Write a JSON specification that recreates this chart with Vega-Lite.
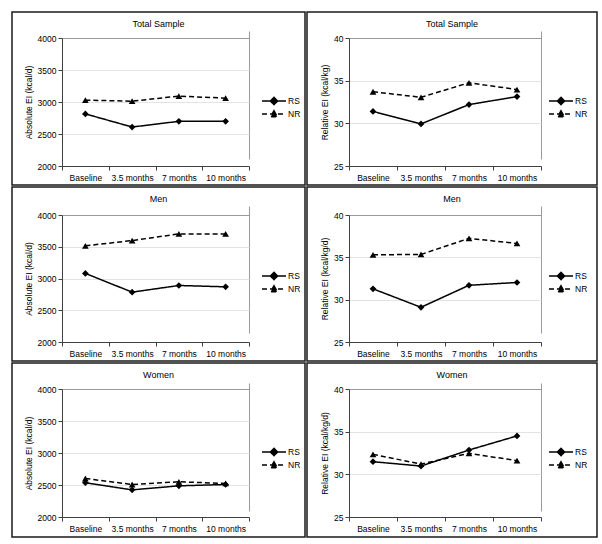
{
  "$schema": "https://vega.github.io/schema/vega-lite/v6.json",
  "padding": {"left": 11, "top": 11, "right": 0, "bottom": 0},
  "background": "white",
  "data": {"values": [
    {"panel": "TA", "series": "RS", "time": "Baseline", "value": 2814},
    {"panel": "TA", "series": "RS", "time": "3.5 months", "value": 2609},
    {"panel": "TA", "series": "RS", "time": "7 months", "value": 2698},
    {"panel": "TA", "series": "RS", "time": "10 months", "value": 2698},
    {"panel": "TA", "series": "NR", "time": "Baseline", "value": 3029},
    {"panel": "TA", "series": "NR", "time": "3.5 months", "value": 3013},
    {"panel": "TA", "series": "NR", "time": "7 months", "value": 3092},
    {"panel": "TA", "series": "NR", "time": "10 months", "value": 3060},
    {"panel": "TR", "series": "RS", "time": "Baseline", "value": 31.4},
    {"panel": "TR", "series": "RS", "time": "3.5 months", "value": 29.93},
    {"panel": "TR", "series": "RS", "time": "7 months", "value": 32.2},
    {"panel": "TR", "series": "RS", "time": "10 months", "value": 33.13},
    {"panel": "TR", "series": "NR", "time": "Baseline", "value": 33.7},
    {"panel": "TR", "series": "NR", "time": "3.5 months", "value": 33.05},
    {"panel": "TR", "series": "NR", "time": "7 months", "value": 34.75},
    {"panel": "TR", "series": "NR", "time": "10 months", "value": 33.96},
    {"panel": "MA", "series": "RS", "time": "Baseline", "value": 3080},
    {"panel": "MA", "series": "RS", "time": "3.5 months", "value": 2785},
    {"panel": "MA", "series": "RS", "time": "7 months", "value": 2890},
    {"panel": "MA", "series": "RS", "time": "10 months", "value": 2869},
    {"panel": "MA", "series": "NR", "time": "Baseline", "value": 3515},
    {"panel": "MA", "series": "NR", "time": "3.5 months", "value": 3597},
    {"panel": "MA", "series": "NR", "time": "7 months", "value": 3702},
    {"panel": "MA", "series": "NR", "time": "10 months", "value": 3702},
    {"panel": "MR", "series": "RS", "time": "Baseline", "value": 31.28},
    {"panel": "MR", "series": "RS", "time": "3.5 months", "value": 29.1},
    {"panel": "MR", "series": "RS", "time": "7 months", "value": 31.7},
    {"panel": "MR", "series": "RS", "time": "10 months", "value": 32.03},
    {"panel": "MR", "series": "NR", "time": "Baseline", "value": 35.3},
    {"panel": "MR", "series": "NR", "time": "3.5 months", "value": 35.34},
    {"panel": "MR", "series": "NR", "time": "7 months", "value": 37.24},
    {"panel": "MR", "series": "NR", "time": "10 months", "value": 36.64},
    {"panel": "WA", "series": "RS", "time": "Baseline", "value": 2535},
    {"panel": "WA", "series": "RS", "time": "3.5 months", "value": 2424},
    {"panel": "WA", "series": "RS", "time": "7 months", "value": 2487},
    {"panel": "WA", "series": "RS", "time": "10 months", "value": 2508},
    {"panel": "WA", "series": "NR", "time": "Baseline", "value": 2602},
    {"panel": "WA", "series": "NR", "time": "3.5 months", "value": 2508},
    {"panel": "WA", "series": "NR", "time": "7 months", "value": 2550},
    {"panel": "WA", "series": "NR", "time": "10 months", "value": 2524},
    {"panel": "WR", "series": "RS", "time": "Baseline", "value": 31.48},
    {"panel": "WR", "series": "RS", "time": "3.5 months", "value": 30.97},
    {"panel": "WR", "series": "RS", "time": "7 months", "value": 32.85},
    {"panel": "WR", "series": "RS", "time": "10 months", "value": 34.5},
    {"panel": "WR", "series": "NR", "time": "Baseline", "value": 32.34},
    {"panel": "WR", "series": "NR", "time": "3.5 months", "value": 31.2},
    {"panel": "WR", "series": "NR", "time": "7 months", "value": 32.46},
    {"panel": "WR", "series": "NR", "time": "10 months", "value": 31.6}
  ]},
  "spacing": 0,
  "resolve": {"scale": {"strokeDash": "independent"}},
  "vconcat": [
    {
      "spacing": 0,
      "resolve": {"scale": {"strokeDash": "independent"}},
      "hconcat": [
        {
          "width": 293, "height": 173,
          "title": {"text": "Total Sample"},
          "transform": [{"filter": "datum.panel == 'TA'"}],
          "encoding": {
            "x": {"field": "time", "type": "nominal", "sort": ["Baseline", "3.5 months", "7 months", "10 months"],
              "scale": {"type": "band", "paddingInner": 0, "paddingOuter": 0, "range": [50, 237]},
              "axis": {"title": null, "offset": -19, "tickBand": "extent", "grid": true, "gridColor": "#9a9a9a",
                "gridOpacity": {"condition": {"test": "datum.value == '10 months'", "value": 1}, "value": 0}}},
            "y": {"field": "value", "type": "quantitative",
              "scale": {"domain": [2000, 4000], "range": [154, 26], "nice": false, "zero": false},
              "axis": {"title": "Absolute EI (kcal/d)", "format": "d", "offset": -50, "values": [2000, 2500, 3000, 3500, 4000], "grid": true,
                "gridColor": {"condition": {"test": "datum.value == 4000", "value": "#9a9a9a"}, "value": "#e3e3e3"}}}
          },
          "layer": [
            {"mark": {"type": "line", "color": "#000", "strokeWidth": 1.5},
              "encoding": {"strokeDash": {"field": "series", "type": "nominal",
                "scale": {"domain": ["RS", "NR"], "range": [[1, 0], [5, 3]]},
                "legend": {"orient": "none", "legendX": 256, "legendY": 83, "title": null,
                  "encoding": {"symbols": {"shape": {"condition": {"test": "datum.value === 'RS'", "value": "M-2.4,0H2.4M0,-0.72L0.72,0L0,0.72L-0.72,0Z"}, "value": "M-2.4,0H2.4M0,-0.66L0.66,0.54L-0.66,0.54Z"}, "fill": {"value": "#000"}, "stroke": {"value": "#000"}, "strokeWidth": {"value": 1.5}}}}}}},
            {"transform": [{"filter": "datum.series == 'RS'"}], "mark": {"type": "point", "shape": "diamond", "filled": true, "color": "#000", "size": 45, "opacity": 1}},
            {"transform": [{"filter": "datum.series == 'NR'"}], "mark": {"type": "point", "shape": "triangle-up", "filled": true, "color": "#000", "size": 45, "opacity": 1}}
          ]
        },
        {
          "width": 290, "height": 173,
          "title": {"text": "Total Sample"},
          "transform": [{"filter": "datum.panel == 'TR'"}],
          "encoding": {
            "x": {"field": "time", "type": "nominal", "sort": ["Baseline", "3.5 months", "7 months", "10 months"],
              "scale": {"type": "band", "paddingInner": 0, "paddingOuter": 0, "range": [42, 234]},
              "axis": {"title": null, "offset": -19, "tickBand": "extent", "grid": true, "gridColor": "#9a9a9a",
                "gridOpacity": {"condition": {"test": "datum.value == '10 months'", "value": 1}, "value": 0}}},
            "y": {"field": "value", "type": "quantitative",
              "scale": {"domain": [25, 40], "range": [154, 26], "nice": false, "zero": false},
              "axis": {"title": "Relative EI (kcal/kg)", "offset": -42, "values": [25, 30, 35, 40], "grid": true,
                "gridColor": {"condition": {"test": "datum.value == 40", "value": "#9a9a9a"}, "value": "#e3e3e3"}}}
          },
          "layer": [
            {"mark": {"type": "line", "color": "#000", "strokeWidth": 1.5},
              "encoding": {"strokeDash": {"field": "series", "type": "nominal",
                "scale": {"domain": ["RS", "NR"], "range": [[1, 0], [5, 3]]},
                "legend": {"orient": "none", "legendX": 248, "legendY": 83, "title": null,
                  "encoding": {"symbols": {"shape": {"condition": {"test": "datum.value === 'RS'", "value": "M-2.4,0H2.4M0,-0.72L0.72,0L0,0.72L-0.72,0Z"}, "value": "M-2.4,0H2.4M0,-0.66L0.66,0.54L-0.66,0.54Z"}, "fill": {"value": "#000"}, "stroke": {"value": "#000"}, "strokeWidth": {"value": 1.5}}}}}}},
            {"transform": [{"filter": "datum.series == 'RS'"}], "mark": {"type": "point", "shape": "diamond", "filled": true, "color": "#000", "size": 45, "opacity": 1}},
            {"transform": [{"filter": "datum.series == 'NR'"}], "mark": {"type": "point", "shape": "triangle-up", "filled": true, "color": "#000", "size": 45, "opacity": 1}}
          ]
        }
      ]
    },
    {
      "spacing": 0,
      "resolve": {"scale": {"strokeDash": "independent"}},
      "hconcat": [
        {
          "width": 293, "height": 174,
          "title": {"text": "Men"},
          "transform": [{"filter": "datum.panel == 'MA'"}],
          "encoding": {
            "x": {"field": "time", "type": "nominal", "sort": ["Baseline", "3.5 months", "7 months", "10 months"],
              "scale": {"type": "band", "paddingInner": 0, "paddingOuter": 0, "range": [50, 237]},
              "axis": {"title": null, "offset": -19, "tickBand": "extent", "grid": true, "gridColor": "#9a9a9a",
                "gridOpacity": {"condition": {"test": "datum.value == '10 months'", "value": 1}, "value": 0}}},
            "y": {"field": "value", "type": "quantitative",
              "scale": {"domain": [2000, 4000], "range": [155, 28], "nice": false, "zero": false},
              "axis": {"title": "Absolute EI (kcal/d)", "format": "d", "offset": -50, "values": [2000, 2500, 3000, 3500, 4000], "grid": true,
                "gridColor": {"condition": {"test": "datum.value == 4000", "value": "#9a9a9a"}, "value": "#e3e3e3"}}}
          },
          "layer": [
            {"mark": {"type": "line", "color": "#000", "strokeWidth": 1.5},
              "encoding": {"strokeDash": {"field": "series", "type": "nominal",
                "scale": {"domain": ["RS", "NR"], "range": [[1, 0], [5, 3]]},
                "legend": {"orient": "none", "legendX": 256, "legendY": 83, "title": null,
                  "encoding": {"symbols": {"shape": {"condition": {"test": "datum.value === 'RS'", "value": "M-2.4,0H2.4M0,-0.72L0.72,0L0,0.72L-0.72,0Z"}, "value": "M-2.4,0H2.4M0,-0.66L0.66,0.54L-0.66,0.54Z"}, "fill": {"value": "#000"}, "stroke": {"value": "#000"}, "strokeWidth": {"value": 1.5}}}}}}},
            {"transform": [{"filter": "datum.series == 'RS'"}], "mark": {"type": "point", "shape": "diamond", "filled": true, "color": "#000", "size": 45, "opacity": 1}},
            {"transform": [{"filter": "datum.series == 'NR'"}], "mark": {"type": "point", "shape": "triangle-up", "filled": true, "color": "#000", "size": 45, "opacity": 1}}
          ]
        },
        {
          "width": 290, "height": 174,
          "title": {"text": "Men"},
          "transform": [{"filter": "datum.panel == 'MR'"}],
          "encoding": {
            "x": {"field": "time", "type": "nominal", "sort": ["Baseline", "3.5 months", "7 months", "10 months"],
              "scale": {"type": "band", "paddingInner": 0, "paddingOuter": 0, "range": [42, 234]},
              "axis": {"title": null, "offset": -19, "tickBand": "extent", "grid": true, "gridColor": "#9a9a9a",
                "gridOpacity": {"condition": {"test": "datum.value == '10 months'", "value": 1}, "value": 0}}},
            "y": {"field": "value", "type": "quantitative",
              "scale": {"domain": [25, 40], "range": [155, 28], "nice": false, "zero": false},
              "axis": {"title": "Relative EI (kcal/kg/d)", "offset": -42, "values": [25, 30, 35, 40], "grid": true,
                "gridColor": {"condition": {"test": "datum.value == 40", "value": "#9a9a9a"}, "value": "#e3e3e3"}}}
          },
          "layer": [
            {"mark": {"type": "line", "color": "#000", "strokeWidth": 1.5},
              "encoding": {"strokeDash": {"field": "series", "type": "nominal",
                "scale": {"domain": ["RS", "NR"], "range": [[1, 0], [5, 3]]},
                "legend": {"orient": "none", "legendX": 248, "legendY": 83, "title": null,
                  "encoding": {"symbols": {"shape": {"condition": {"test": "datum.value === 'RS'", "value": "M-2.4,0H2.4M0,-0.72L0.72,0L0,0.72L-0.72,0Z"}, "value": "M-2.4,0H2.4M0,-0.66L0.66,0.54L-0.66,0.54Z"}, "fill": {"value": "#000"}, "stroke": {"value": "#000"}, "strokeWidth": {"value": 1.5}}}}}}},
            {"transform": [{"filter": "datum.series == 'RS'"}], "mark": {"type": "point", "shape": "diamond", "filled": true, "color": "#000", "size": 45, "opacity": 1}},
            {"transform": [{"filter": "datum.series == 'NR'"}], "mark": {"type": "point", "shape": "triangle-up", "filled": true, "color": "#000", "size": 45, "opacity": 1}}
          ]
        }
      ]
    },
    {
      "spacing": 0,
      "resolve": {"scale": {"strokeDash": "independent"}},
      "hconcat": [
        {
          "width": 293, "height": 174,
          "title": {"text": "Women"},
          "transform": [{"filter": "datum.panel == 'WA'"}],
          "encoding": {
            "x": {"field": "time", "type": "nominal", "sort": ["Baseline", "3.5 months", "7 months", "10 months"],
              "scale": {"type": "band", "paddingInner": 0, "paddingOuter": 0, "range": [50, 237]},
              "axis": {"title": null, "offset": -20, "tickBand": "extent", "grid": true, "gridColor": "#9a9a9a",
                "gridOpacity": {"condition": {"test": "datum.value == '10 months'", "value": 1}, "value": 0}}},
            "y": {"field": "value", "type": "quantitative",
              "scale": {"domain": [2000, 4000], "range": [154, 26], "nice": false, "zero": false},
              "axis": {"title": "Absolute EI (kcal/d)", "format": "d", "offset": -50, "values": [2000, 2500, 3000, 3500, 4000], "grid": true,
                "gridColor": {"condition": {"test": "datum.value == 4000", "value": "#9a9a9a"}, "value": "#e3e3e3"}}}
          },
          "layer": [
            {"mark": {"type": "line", "color": "#000", "strokeWidth": 1.5},
              "encoding": {"strokeDash": {"field": "series", "type": "nominal",
                "scale": {"domain": ["RS", "NR"], "range": [[1, 0], [5, 3]]},
                "legend": {"orient": "none", "legendX": 256, "legendY": 83, "title": null,
                  "encoding": {"symbols": {"shape": {"condition": {"test": "datum.value === 'RS'", "value": "M-2.4,0H2.4M0,-0.72L0.72,0L0,0.72L-0.72,0Z"}, "value": "M-2.4,0H2.4M0,-0.66L0.66,0.54L-0.66,0.54Z"}, "fill": {"value": "#000"}, "stroke": {"value": "#000"}, "strokeWidth": {"value": 1.5}}}}}}},
            {"transform": [{"filter": "datum.series == 'RS'"}], "mark": {"type": "point", "shape": "diamond", "filled": true, "color": "#000", "size": 45, "opacity": 1}},
            {"transform": [{"filter": "datum.series == 'NR'"}], "mark": {"type": "point", "shape": "triangle-up", "filled": true, "color": "#000", "size": 45, "opacity": 1}}
          ]
        },
        {
          "width": 290, "height": 174,
          "title": {"text": "Women"},
          "transform": [{"filter": "datum.panel == 'WR'"}],
          "encoding": {
            "x": {"field": "time", "type": "nominal", "sort": ["Baseline", "3.5 months", "7 months", "10 months"],
              "scale": {"type": "band", "paddingInner": 0, "paddingOuter": 0, "range": [42, 234]},
              "axis": {"title": null, "offset": -20, "tickBand": "extent", "grid": true, "gridColor": "#9a9a9a",
                "gridOpacity": {"condition": {"test": "datum.value == '10 months'", "value": 1}, "value": 0}}},
            "y": {"field": "value", "type": "quantitative",
              "scale": {"domain": [25, 40], "range": [154, 26], "nice": false, "zero": false},
              "axis": {"title": "Relative EI (kcal/kg/d)", "offset": -42, "values": [25, 30, 35, 40], "grid": true,
                "gridColor": {"condition": {"test": "datum.value == 40", "value": "#9a9a9a"}, "value": "#e3e3e3"}}}
          },
          "layer": [
            {"mark": {"type": "line", "color": "#000", "strokeWidth": 1.5},
              "encoding": {"strokeDash": {"field": "series", "type": "nominal",
                "scale": {"domain": ["RS", "NR"], "range": [[1, 0], [5, 3]]},
                "legend": {"orient": "none", "legendX": 248, "legendY": 83, "title": null,
                  "encoding": {"symbols": {"shape": {"condition": {"test": "datum.value === 'RS'", "value": "M-2.4,0H2.4M0,-0.72L0.72,0L0,0.72L-0.72,0Z"}, "value": "M-2.4,0H2.4M0,-0.66L0.66,0.54L-0.66,0.54Z"}, "fill": {"value": "#000"}, "stroke": {"value": "#000"}, "strokeWidth": {"value": 1.5}}}}}}},
            {"transform": [{"filter": "datum.series == 'RS'"}], "mark": {"type": "point", "shape": "diamond", "filled": true, "color": "#000", "size": 45, "opacity": 1}},
            {"transform": [{"filter": "datum.series == 'NR'"}], "mark": {"type": "point", "shape": "triangle-up", "filled": true, "color": "#000", "size": 45, "opacity": 1}}
          ]
        }
      ]
    }
  ],
  "config": {
    "font": "Liberation Sans",
    "view": {"stroke": "#1a1a1a", "strokeWidth": 1.5},
    "axis": {"domainColor": "#404040", "tickColor": "#404040", "tickSize": 4, "labelFontSize": 8.5, "labelColor": "#000",
      "titleFontSize": 8.5, "titleFontWeight": "normal", "titleColor": "#000", "labelPadding": 2, "domainWidth": 1, "gridWidth": 1},
    "axisX": {"labelAngle": 0, "labelOverlap": false, "labelPadding": 3},
    "title": {"fontSize": 9, "fontWeight": "normal", "color": "#000", "offset": -17},
    "legend": {"labelFontSize": 8.5, "labelColor": "#000", "symbolSize": 100, "symbolStrokeWidth": 1.5, "symbolStrokeColor": "#000",
      "labelOffset": 8, "rowPadding": -2}
  }
}
